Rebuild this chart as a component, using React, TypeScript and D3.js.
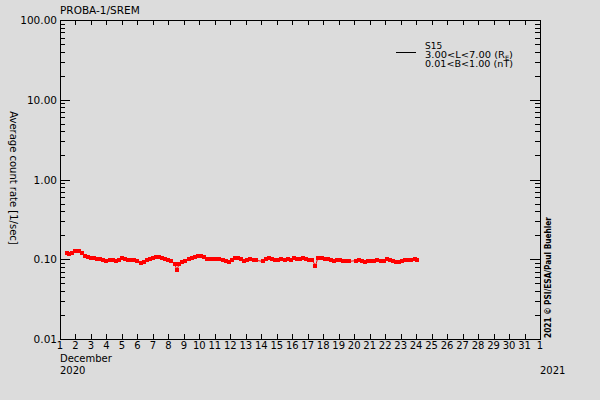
import React from "react";
import * as d3 from "d3";

// S15 average count rate, December 2020 (day of month, fractional)
const days = [
  1.45, 1.6, 1.8, 2.0, 2.2, 2.4, 2.6, 2.8, 3.0, 3.2, 3.4, 3.6, 3.8, 4.0, 4.2, 4.4, 4.6, 4.8,
  5.0, 5.2, 5.4, 5.6, 5.8, 6.0, 6.2, 6.4, 6.6, 6.8, 7.0, 7.2, 7.4, 7.6, 7.8, 8.0, 8.2, 8.4,
  8.55, 8.7, 8.9, 9.1, 9.3, 9.5, 9.7, 9.9, 10.1, 10.3, 10.5, 10.7, 10.9, 11.1, 11.3, 11.5,
  11.7, 11.9, 12.1, 12.3, 12.5, 12.7, 12.9, 13.1, 13.3, 13.5, 13.65,
  14.1, 14.3, 14.5, 14.7, 14.9, 15.1, 15.3, 15.5, 15.7, 15.9, 16.1, 16.3, 16.5, 16.7, 16.9,
  17.05, 17.3, 17.5, 17.65, 17.9, 18.1, 18.3, 18.5, 18.7, 18.9, 19.1, 19.3, 19.5, 19.65,
  20.1, 20.3, 20.5, 20.7, 20.9, 21.1, 21.3, 21.5, 21.7, 21.9, 22.1, 22.3, 22.5, 22.7, 22.9,
  23.1, 23.3, 23.5, 23.7, 23.9, 24.05,
];
const rates = [
  0.121, 0.116, 0.119, 0.126, 0.128, 0.119, 0.111, 0.106, 0.104, 0.103, 0.101, 0.1, 0.097,
  0.096, 0.097, 0.099, 0.094, 0.099, 0.104, 0.101, 0.099, 0.097, 0.097, 0.094, 0.09, 0.093,
  0.097, 0.1, 0.104, 0.107, 0.107, 0.104, 0.1, 0.097, 0.094, 0.087,
  0.074, 0.087, 0.093, 0.096, 0.1, 0.104, 0.107, 0.109, 0.109, 0.106, 0.101, 0.1, 0.1, 0.1,
  0.1, 0.099, 0.096, 0.093, 0.097, 0.103, 0.104, 0.1, 0.096, 0.097, 0.1, 0.099, 0.097,
  0.094, 0.101, 0.104, 0.1, 0.099, 0.097, 0.1, 0.099, 0.101, 0.099, 0.103, 0.1, 0.101, 0.103,
  0.1, 0.099, 0.097, 0.083, 0.103, 0.104, 0.101, 0.1, 0.097, 0.096, 0.097, 0.097, 0.094,
  0.096, 0.094,
  0.096, 0.097, 0.094, 0.093, 0.094, 0.096, 0.094, 0.097, 0.094, 0.096, 0.1, 0.099, 0.096,
  0.093, 0.092, 0.094, 0.097, 0.097, 0.099, 0.1, 0.099,
];

const dayTicks = d3.range(1, 33);
const dayLabels = dayTicks.map((d) => String(d > 31 ? d - 31 : d));
const decades = [0.01, 0.1, 1, 10, 100];
const decadeLabels = ["0.01", "0.10", "1.00", "10.00", "100.00"];
const legendLines = ["S15", "3.00<L<7.00 (R", "0.01<B<1.00 (nT)"];

const W = 600;
const H = 400;
const left = 60;
const right = 540;
const top = 20;
const bottom = 339;
const font = "DejaVu Sans, sans-serif";

export default function App() {
  const x = d3.scaleLinear().domain([1, 32]).range([left, right]);
  const y = d3.scaleLog().domain([0.01, 100]).range([bottom, top]);

  const minor: number[] = [];
  decades.slice(0, -1).forEach((d) => {
    for (let k = 2; k <= 9; k++) minor.push(d * k);
  });

  const pts = days.map((d, i) => [x(d), y(rates[i])] as [number, number]);
  const line = d3.line()(pts) || "";

  return (
    <div style={{ position: "absolute", left: 0, top: 0 }}>
      <svg width={W} height={H} style={{ display: "block" }} fontFamily={font}>
        <rect width={W} height={H} fill="#dcdcdc" />
        <text x={left} y={14} fontSize={10.5}>PROBA-1/SREM</text>

        <g shapeRendering="crispEdges" stroke="#000">
          <rect x={left + 0.5} y={top + 0.5} width={right - left} height={bottom - top} fill="none" />
          {dayTicks.map((d) => (
            <g key={d}>
              <line x1={Math.round(x(d)) + 0.5} x2={Math.round(x(d)) + 0.5} y1={bottom} y2={bottom - 5} />
              <line x1={Math.round(x(d)) + 0.5} x2={Math.round(x(d)) + 0.5} y1={top} y2={top + 5} />
            </g>
          ))}
          {decades.map((d) => (
            <g key={d}>
              <line x1={left} x2={left + 10} y1={Math.round(y(d)) + 0.5} y2={Math.round(y(d)) + 0.5} />
              <line x1={right} x2={right - 10} y1={Math.round(y(d)) + 0.5} y2={Math.round(y(d)) + 0.5} />
            </g>
          ))}
          {minor.map((d) => (
            <g key={d}>
              <line x1={left} x2={left + 5} y1={Math.round(y(d)) + 0.5} y2={Math.round(y(d)) + 0.5} />
              <line x1={right} x2={right - 5} y1={Math.round(y(d)) + 0.5} y2={Math.round(y(d)) + 0.5} />
            </g>
          ))}
        </g>

        <g fontSize={10.5} textAnchor="end">
          {decades.map((d, i) => (
            <text key={d} x={left - 3} y={y(d) + 4}>{decadeLabels[i]}</text>
          ))}
        </g>
        <g fontSize={10} textAnchor="middle">
          {dayTicks.map((d, i) => (
            <text key={d} x={x(d)} y={349}>{dayLabels[i]}</text>
          ))}
        </g>
        <g fontSize={10}>
          <text x={left} y={362}>December</text>
          <text x={left} y={374}>2020</text>
          <text x={right} y={374}>2021</text>
        </g>

        <text transform="translate(10,178) rotate(90)" fontSize={10} textAnchor="middle">
          Average count rate [1/sec]
        </text>
        <text transform="translate(551,338) rotate(-90)" fontSize={9} fontWeight="bold"
          textLength={121} lengthAdjust="spacingAndGlyphs">
          2021 © PSI/ESA/Paul Buehler
        </text>

        <g fontSize={9}>
          <line x1={396} x2={416} y1={52.5} y2={52.5} stroke="#000" shapeRendering="crispEdges" />
          {legendLines.map((t, i) => (
            <text key={t} x={425} y={49 + i * 9} textLength={i === 0 ? undefined : 88}
              lengthAdjust="spacingAndGlyphs">
              {t}
              {i === 1 && (
                <>
                  <tspan fontSize={6} dy={1.5}>E</tspan>
                  <tspan dy={-1.5}>)</tspan>
                </>
              )}
            </text>
          ))}
        </g>

        <path d={line} fill="none" stroke="#ff0000" strokeWidth={1} />
        <g fill="#ff0000" shapeRendering="crispEdges">
          {pts.map(([px, py], i) => (
            <rect key={i} x={px - 2} y={py - 2} width={4} height={4} />
          ))}
        </g>
      </svg>
    </div>
  );
}
